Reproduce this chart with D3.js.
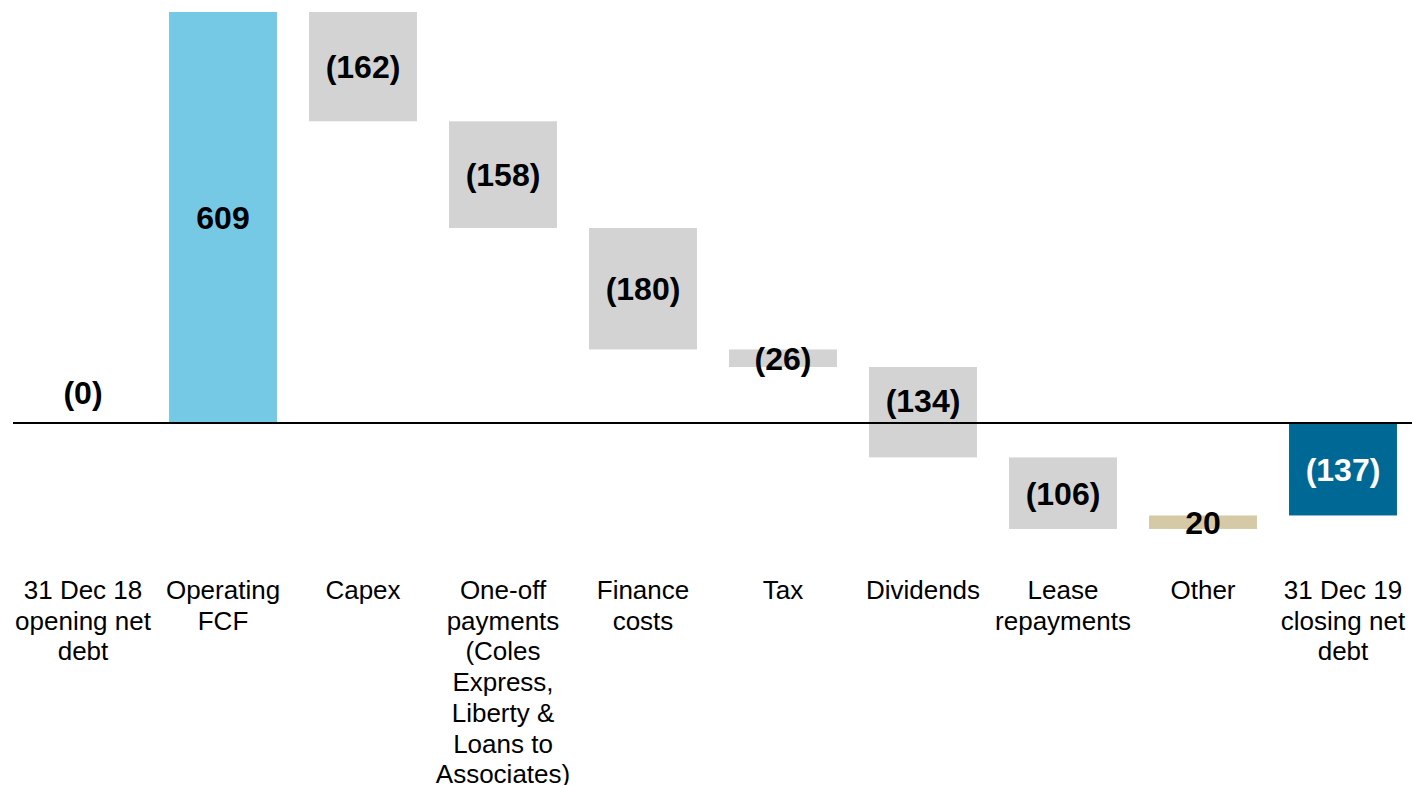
<!DOCTYPE html>
<html>
<head>
<meta charset="utf-8">
<script src="https://cdn.jsdelivr.net/npm/d3@7"></script>
<style>
  body { margin: 0; background: #fff; }
  text { font-family: "Liberation Sans", Arial, sans-serif; }
</style>
</head>
<body>
<div id="chart"></div>
<script>
// categories (multi-line labels) and step values
const categories = [
  ["31 Dec 18", "opening net", "debt"],
  ["Operating", "FCF"],
  ["Capex"],
  ["One-off", "payments", "(Coles", "Express,", "Liberty &", "Loans to", "Associates)"],
  ["Finance", "costs"],
  ["Tax"],
  ["Dividends"],
  ["Lease", "repayments"],
  ["Other"],
  ["31 Dec 19", "closing net", "debt"]
];
const values = [0, 609, -162, -158, -180, -26, -134, -106, 20, -137];
const labels = ["(0)", "609", "(162)", "(158)", "(180)", "(26)", "(134)", "(106)", "20", "(137)"];
const kinds = ["total", "gain", "loss", "loss", "loss", "loss", "loss", "loss", "other", "total"];

const colors = {total: "#006894", gain: "#76C9E5", loss: "#D4D3D4", other: "#D6CAA6"};

const width = 1412, height = 785;
const margin = {left: 13, right: 0};

// build waterfall start/end
let run = 0;
const data = values.map((v, i) => {
  let start, end;
  if (kinds[i] === "total") { start = 0; end = v; run = v; }
  else { start = run; end = run + v; run = end; }
  return {i, v, start, end, kind: kinds[i], label: labels[i], cat: categories[i]};
});

const svg = d3.select("#chart").append("svg")
  .attr("width", width).attr("height", height);

const x = d3.scaleBand()
  .domain(d3.range(categories.length))
  .range([margin.left, width - margin.right + 1])
  .paddingInner(0.229)
  .paddingOuter(0.1145);

const y = d3.scaleLinear()
  .domain([0, 609])
  .range([423, 12]);

// bars
svg.selectAll("rect.bar")
  .data(data)
  .join("rect")
    .attr("class", "bar")
    .attr("x", d => x(d.i))
    .attr("y", d => y(Math.max(d.start, d.end)))
    .attr("width", x.bandwidth())
    .attr("height", d => Math.abs(y(d.start) - y(d.end)))
    .attr("fill", d => colors[d.kind]);

// baseline
svg.append("line")
  .attr("x1", margin.left).attr("x2", width)
  .attr("y1", y(0)).attr("y2", y(0))
  .attr("stroke", "#000").attr("stroke-width", 2);

// label y: centred in bar, but kept above the zero line when the bar is empty or crosses it
function labelY(d) {
  if (d.start === d.end) return y(0) - 31;
  if (d.start > 0 && d.end < 0) return y(0) - 23;
  return (y(d.start) + y(d.end)) / 2;
}

// value labels
svg.selectAll("text.val")
  .data(data)
  .join("text")
    .attr("class", "val")
    .attr("x", d => x(d.i) + x.bandwidth() / 2)
    .attr("y", labelY)
    .attr("dy", "0.36em")
    .attr("text-anchor", "middle")
    .attr("font-size", 32)
    .attr("font-weight", "bold")
    .attr("fill", d => d.i === 9 ? "#fff" : "#000")
    .text(d => d.label);

// category labels
const cat = svg.selectAll("text.cat")
  .data(data)
  .join("text")
    .attr("class", "cat")
    .attr("x", d => x(d.i) + x.bandwidth() / 2)
    .attr("y", 599)
    .attr("text-anchor", "middle")
    .attr("font-size", 26)
    .attr("fill", "#000");
cat.selectAll("tspan")
  .data(d => d.cat.map(t => ({t, x: x(d.i) + x.bandwidth() / 2})))
  .join("tspan")
    .attr("x", t => t.x)
    .attr("dy", (t, k) => k === 0 ? 0 : 30.7)
    .text(t => t.t);
</script>
</body>
</html>
